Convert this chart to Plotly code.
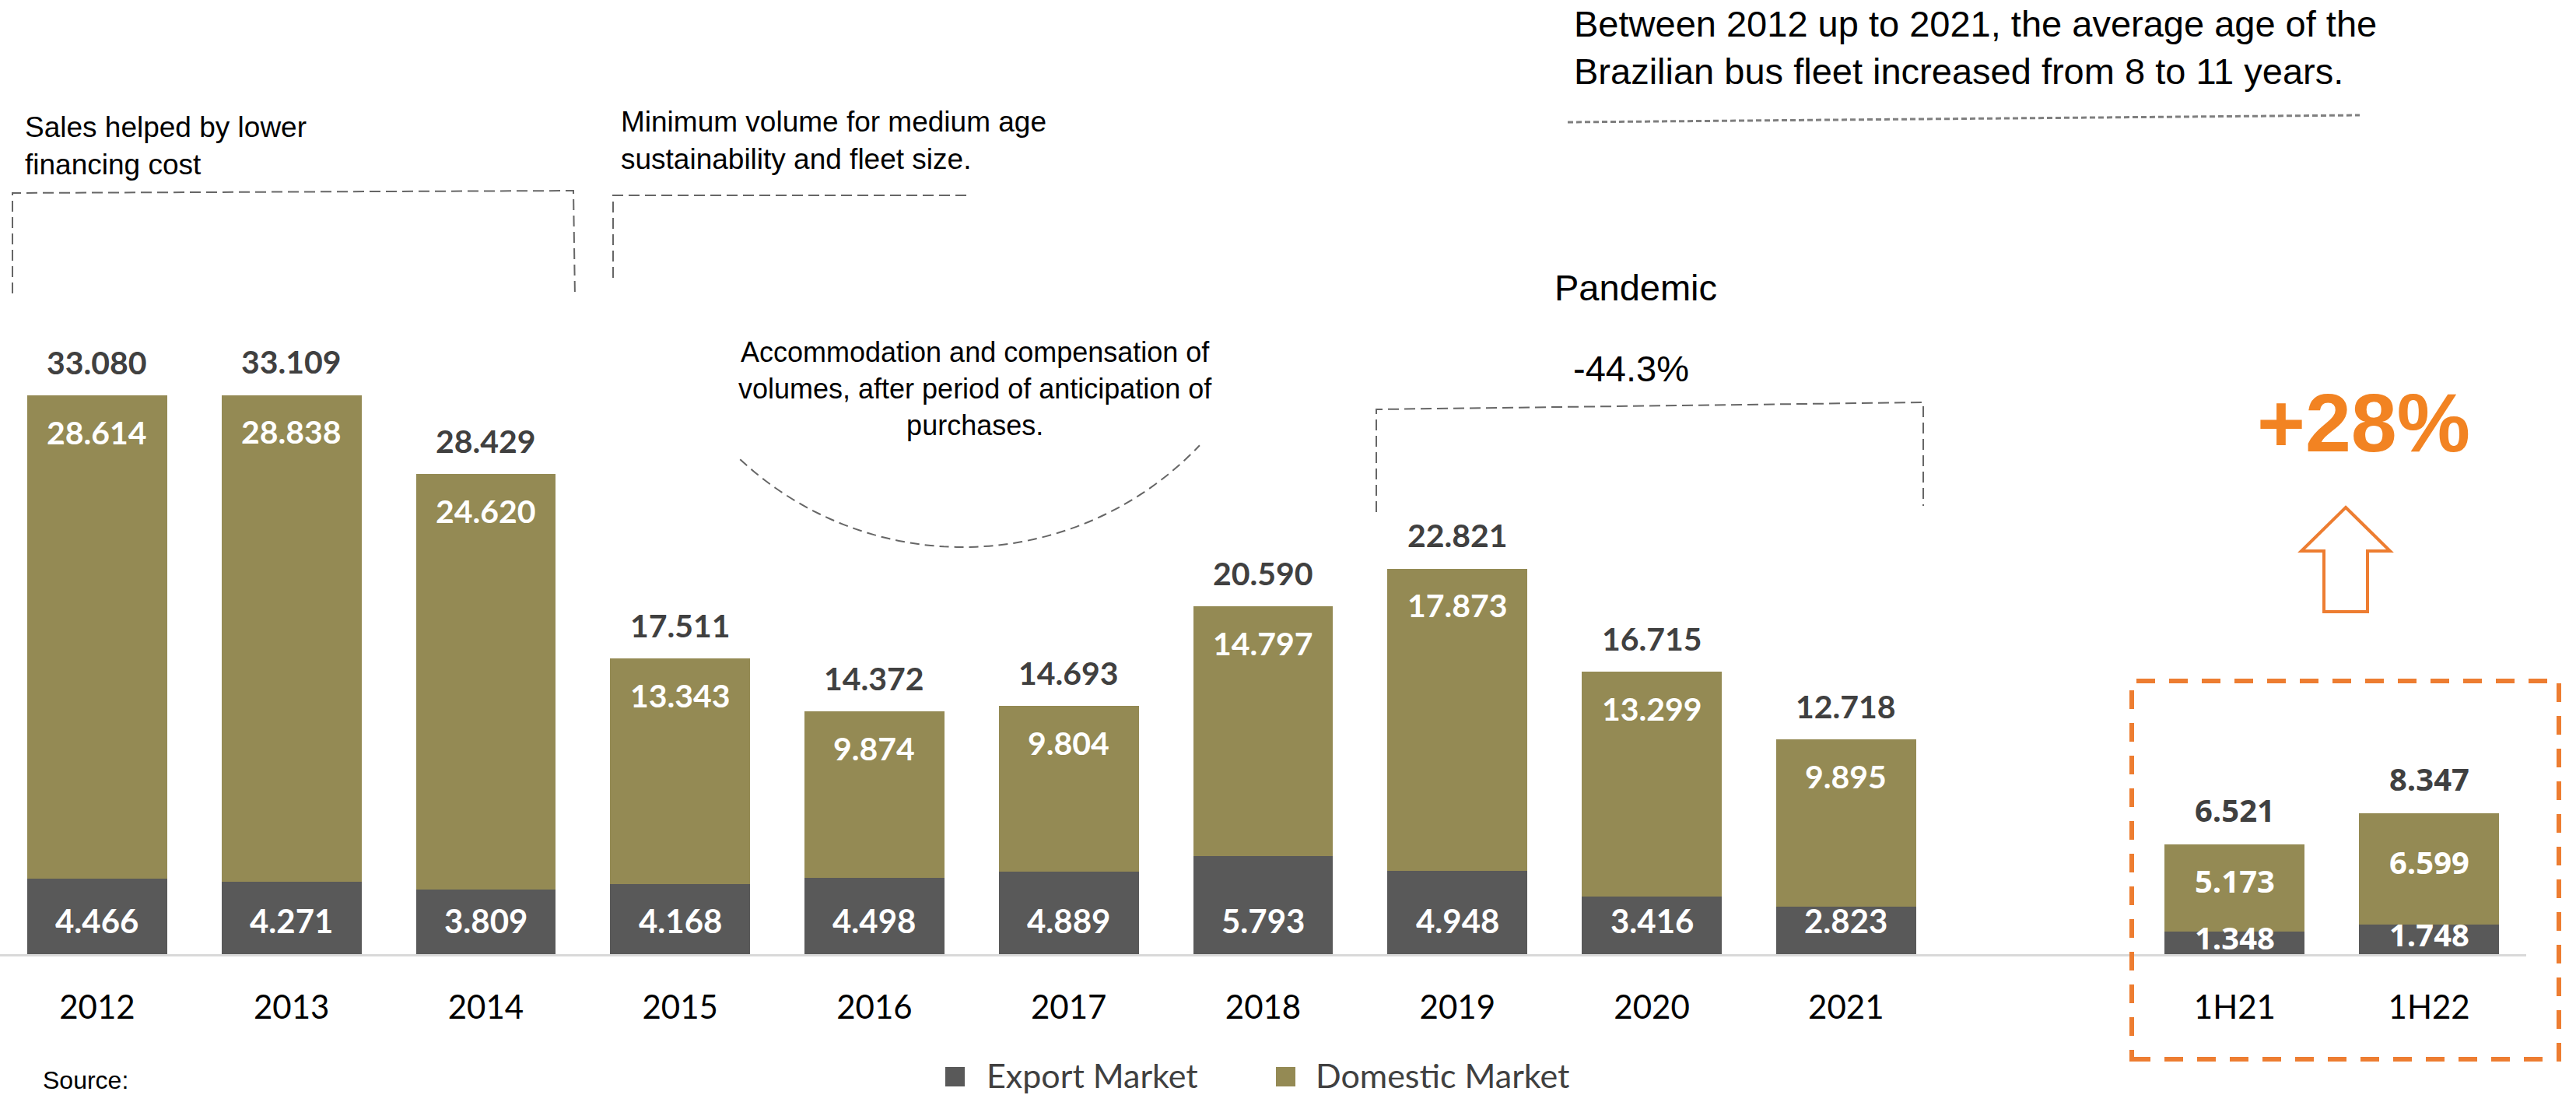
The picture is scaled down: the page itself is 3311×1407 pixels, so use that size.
import numpy as np
import plotly.graph_objects as go

# ---------------- data ----------------
categories = ["2012", "2013", "2014", "2015", "2016", "2017", "2018", "2019",
              "2020", "2021", " ", "1H21", "1H22"]
periods = ["2012", "2013", "2014", "2015", "2016", "2017", "2018", "2019",
           "2020", "2021", "1H21", "1H22"]
export_market = [4466, 4271, 3809, 4168, 4498, 4889, 5793, 4948, 3416, 2823, 1348, 1748]
domestic_market = [28614, 28838, 24620, 13343, 9874, 9804, 14797, 17873, 13299, 9895, 5173, 6599]
totals = [33080, 33109, 28429, 17511, 14372, 14693, 20590, 22821, 16715, 12718, 6521, 8347]
half_year = ["1H21", "1H22"]

# ---------------- layout constants ----------------
W, H = 3311, 1407
ML, MR, MT, MB = 0, 64, 0, 181
PW, PH = W - ML - MR, H - MT - MB

EXPORT_C = "#595959"
DOMESTIC_C = "#948A54"
LABEL_C = "#404040"
ORANGE = "#ED7D31"
MAIN_FONT = "Lato"
NOTE_FONT = "Liberation Sans, Arial, sans-serif"


def fmt(v):
    return f"{v:,}".replace(",", ".")


def px(x):
    return (x - ML) / PW


def py(y):
    return (MT + PH - y) / PH


fig = go.Figure()
fig.add_trace(go.Bar(x=periods, y=export_market, name="Export Market",
                     marker=dict(color=EXPORT_C, line=dict(width=0)),
                     showlegend=False))
fig.add_trace(go.Bar(x=periods, y=domestic_market, name="Domestic Market",
                     marker=dict(color=DOMESTIC_C, line=dict(width=0)),
                     showlegend=False))

annotations = []
for p, e, d, t in zip(periods, export_market, domestic_market, totals):
    xi = categories.index(p)  # category index on the x axis
    hy = p in half_year
    fam = "Open Sans" if hy else MAIN_FONT
    fs = 40 if hy else 41
    annotations.append(dict(x=xi, y=t, xref="x", yref="y", text=f"<b>{fmt(t)}</b>",
                            showarrow=False, yanchor="middle", yshift=44 if hy else 43,
                            font=dict(family=fam, size=fs, color=LABEL_C)))
    if hy:
        annotations.append(dict(x=xi, y=e + d / 2, xref="x", yref="y", text=f"<b>{fmt(d)}</b>",
                                showarrow=False, yanchor="middle", yshift=9,
                                font=dict(family=fam, size=fs, color="white")))
        annotations.append(dict(x=xi, y=e / 2, xref="x", yref="y", text=f"<b>{fmt(e)}</b>",
                                showarrow=False, yanchor="middle", yshift=7,
                                font=dict(family=fam, size=fs, color="white")))
    else:
        annotations.append(dict(x=xi, y=t, xref="x", yref="y", text=f"<b>{fmt(d)}</b>",
                                showarrow=False, yanchor="middle", yshift=-47,
                                font=dict(family=fam, size=fs, color="white")))
        annotations.append(dict(x=xi, y=0, xref="x", yref="y", text=f"<b>{fmt(e)}</b>",
                                showarrow=False, yanchor="middle", yshift=43,
                                font=dict(family=fam, size=42, color="white")))


def note(text, x, y, size, xanchor="left", align="left", color="black", family=NOTE_FONT):
    annotations.append(dict(x=px(x), y=py(y), xref="paper", yref="paper", text=text,
                            showarrow=False, xanchor=xanchor, yanchor="middle", align=align,
                            borderpad=0, font=dict(family=family, size=size, color=color)))


note("Sales helped by lower<br>financing cost", 31, 188, 37)
note("Minimum volume for medium age<br>sustainability and fleet size.", 797, 181, 37)
note("Accommodation and compensation of<br>volumes, after period of anticipation of<br>purchases.",
     1253, 499, 36, xanchor="center", align="center")
note("Pandemic", 2102, 370, 47, xanchor="center")
note("-44.3%", 2096, 473, 47, xanchor="center")
note("Between 2012 up to 2021, the average age of the<br>Brazilian bus fleet increased from 8 to 11 years.",
     2022, 61, 47)
note("<b>+28%</b>", 3038, 543, 106, xanchor="center", color="#F28322")
note("Source:", 54, 1388, 32)
note("Export Market", 1267, 1381, 43, color=LABEL_C, family=MAIN_FONT)
note("Domestic Market", 1690, 1381, 43, color=LABEL_C, family=MAIN_FONT)

shapes = []


def path_shape(points, color="#666666", width=2, dash="14px,7px", closed=False, fill=None):
    d = "M" + " L".join(f"{px(x):.5f},{py(y):.5f}" for x, y in points)
    if closed:
        d += " Z"
    s = dict(type="path", path=d, xref="paper", yref="paper",
             line=dict(color=color, width=width, dash=dash))
    if fill:
        s["fillcolor"] = fill
    shapes.append(s)


path_shape([(16, 377), (16, 248), (737, 245), (739, 382)])
path_shape([(788, 357), (788, 251), (1248, 251)])
path_shape([(1769, 658), (1769, 526), (2472, 517), (2472, 650)])
path_shape([(2015, 157), (3033, 148)], width=3, dash="7px,4px", color="#7F7F7F")

# arc
cx, cy, r = 1237.5, 283.3, 419.7
ang = np.radians(np.linspace(133, 43.5, 80))
arc_pts = list(zip(cx + r * np.cos(ang), cy + r * np.sin(ang)))
path_shape(arc_pts, width=2, dash="12px,7px")

# orange dashed highlight box
shapes.append(dict(type="rect", xref="paper", yref="paper",
                   x0=px(2740), x1=px(3289), y0=py(1361), y1=py(875),
                   line=dict(color=ORANGE, width=6, dash="24px,18px")))
# orange arrow
path_shape([(3015, 652), (3072, 708), (3043, 708), (3043, 786), (2987, 786),
            (2987, 708), (2958, 708)], color=ORANGE, width=4, dash="solid",
           closed=True, fill="white")

# legend squares
shapes.append(dict(type="rect", xref="paper", yref="paper", x0=px(1215), x1=px(1240),
                   y0=py(1396), y1=py(1371), line=dict(width=0), fillcolor=EXPORT_C))
shapes.append(dict(type="rect", xref="paper", yref="paper", x0=px(1640), x1=px(1665),
                   y0=py(1396), y1=py(1371), line=dict(width=0), fillcolor=DOMESTIC_C))

fig.update_layout(
    width=W, height=H, autosize=False,
    margin=dict(l=ML, r=MR, t=MT, b=MB, pad=0),
    barmode="stack", bargap=0.28,
    plot_bgcolor="white", paper_bgcolor="white",
    annotations=annotations, shapes=shapes,
    xaxis=dict(type="category", categoryorder="array", categoryarray=categories,
               range=[-0.5, len(categories) - 0.5], showline=True, linecolor="#D9D9D9",
               linewidth=3, ticks="", showgrid=False, zeroline=False,
               tickfont=dict(family=MAIN_FONT, size=42, color="black"),
               ticklabelstandoff=30),
    yaxis=dict(visible=False, range=[0, 56500], showgrid=False, zeroline=False),
)

fig.write_html("out.html")
